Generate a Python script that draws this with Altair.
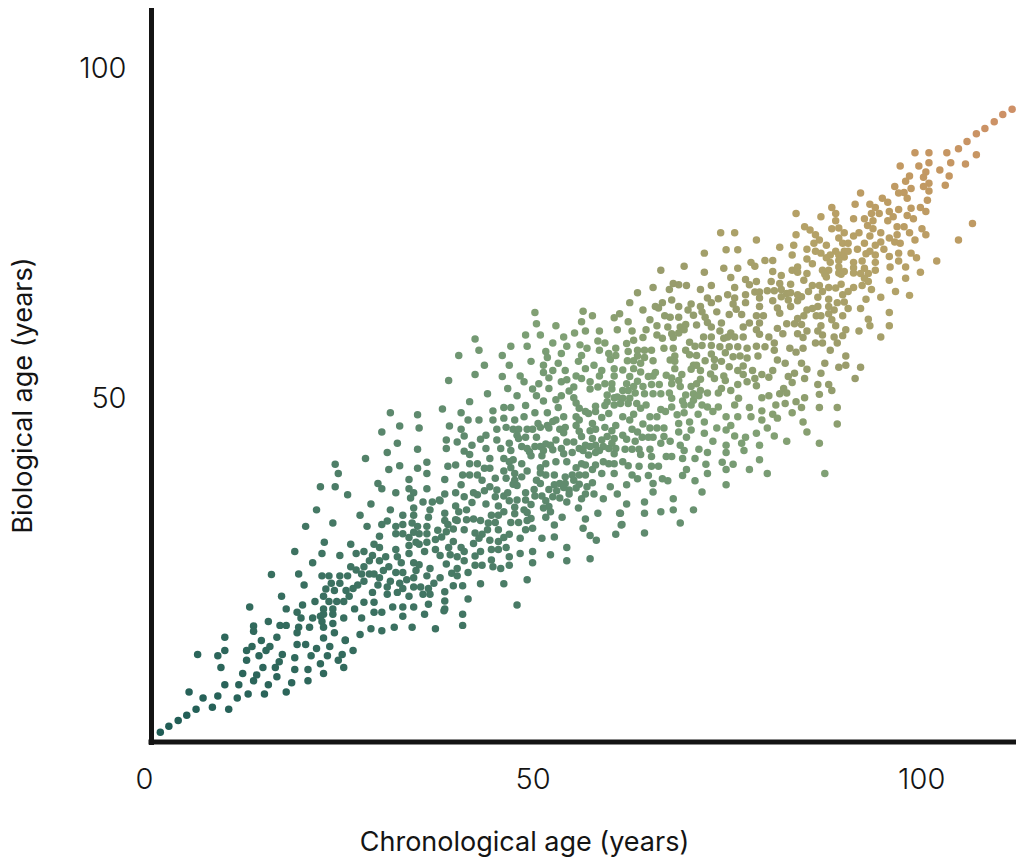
import altair as alt
import pandas as pd

band_young = [(2.1,-0.8),(3.2,0.1),(4.4,1.0),(5.5,1.8),(6.7,2.7),(8.8,3.0),(10.9,2.7),(12.0,4.4),(13.4,5.0),(15.5,5.0),(18.3,5.3),(5.8,5.3),(7.6,4.4),(9.5,4.7),(10.4,6.4),(12.2,6.4),(14.1,7.0),(14.5,7.9),(16.0,6.4),(17.1,7.6),(19.0,6.7),(21.1,7.0),(23.1,8.1),(19.4,8.7),(21.1,8.7),(22.7,9.6),(25.7,9.0),(25.0,10.1),(25.5,11.0),(26.9,11.6),(23.6,10.8),(21.5,10.8),(19.4,10.5),(17.8,11.0),(17.4,9.9),(16.9,9.0),(15.3,9.0),(12.7,8.1),(9.9,9.0),(9.5,10.8),(6.9,11.0),(10.4,11.6),(10.4,13.6),(13.2,11.6),(13.9,12.2),(13.2,10.1),(14.8,10.8),(15.7,11.6),(16.2,12.2),(19.7,12.5),(20.8,12.5),(22.2,11.9),(23.9,12.2),(25.9,13.1),(15.1,13.1),(17.1,13.6),(14.1,15.3),(14.1,14.5),(16.0,16.0),(13.6,18.2),(16.4,23.1)]

band_twenties = [(31.7,47.6),(35.2,47.3),(32.9,45.6),(35.4,45.3),(30.6,44.7),(32.6,43.0),(31.3,41.6),(35.2,42.1),(28.5,40.7),(24.6,39.8),(25.0,38.4),(31.5,39.0),(32.9,39.6),(35.2,39.2),(36.4,40.1),(36.4,38.4),(34.1,37.5),(30.1,36.9),(30.6,36.1),(22.7,36.4),(24.6,36.4),(26.2,35.2),(32.4,35.5),(34.1,36.1),(34.7,35.5),(34.3,34.7),(36.4,36.1),(35.9,34.1),(37.1,34.1),(38.0,34.4),(29.2,33.8),(22.2,32.9),(31.7,32.9),(34.7,33.2),(36.8,32.9),(33.3,32.1),(34.7,32.1),(36.6,31.8),(27.8,32.1),(31.3,31.2),(30.6,30.7),(24.3,30.9),(20.8,30.4),(28.7,30.4),(32.4,30.4),(33.3,30.7),(34.5,30.9),(35.2,30.4),(36.4,30.4),(32.4,29.3),(33.3,29.3),(34.1,28.7),(34.7,29.5),(35.4,29.3),(36.4,29.3),(37.8,29.8),(30.3,28.9),(23.2,28.0),(26.6,27.7),(29.6,27.7),(30.3,27.2),(34.1,27.5),(35.0,28.0),(35.4,27.7),(36.4,28.0),(37.5,28.4),(19.4,26.6),(22.9,26.3),(25.2,26.0),(27.3,26.3),(28.3,26.6),(32.4,26.9),(34.1,26.3),(36.1,26.6),(37.5,26.9),(29.4,26.0),(31.1,25.8),(32.6,25.8),(29.0,25.2),(30.3,25.2),(33.1,24.9),(34.7,24.9),(35.4,24.6),(21.7,24.9),(26.6,24.3),(28.3,24.3),(27.3,23.8),(31.5,24.3),(30.8,23.7),(19.9,23.2),(22.9,22.9),(23.8,22.9),(25.2,22.9),(26.2,22.9),(28.0,23.2),(29.0,23.2),(29.6,23.2),(30.3,22.6),(32.4,23.4),(33.3,23.4),(35.0,23.7),(36.8,24.0),(34.7,22.6),(33.8,22.3),(36.4,22.9),(31.7,22.1),(28.3,22.1),(27.5,21.5),(26.9,21.0),(25.2,21.8),(24.1,21.8),(20.6,21.5),(30.1,21.5),(31.3,21.2),(32.9,21.8),(34.7,21.2),(35.6,21.2),(36.6,21.0),(37.3,21.8),(23.4,20.9),(24.5,20.7),(26.0,20.7),(33.3,21.0),(29.4,20.4),(32.6,20.4),(31.3,20.1),(35.9,20.1),(36.8,20.1),(17.7,19.8),(23.1,19.8),(23.8,19.0),(24.8,19.0),(25.7,19.0),(26.4,19.8),(22.0,19.0),(34.1,19.8),(28.3,18.9),(29.6,18.9),(36.6,18.6),(20.4,18.5),(18.3,17.9),(23.1,17.9),(24.3,17.9),(27.1,17.9),(32.0,18.2),(33.3,18.2),(34.7,18.2),(19.7,17.4),(23.1,17.1),(24.3,17.1),(29.6,17.4),(30.6,17.4),(36.1,17.1),(20.2,16.5),(21.7,16.5),(22.7,16.8),(22.9,16.0),(25.7,16.5),(28.0,16.5),(33.3,16.8),(17.5,15.4),(18.3,15.4),(19.9,15.1),(21.3,15.1),(23.1,15.1),(24.3,15.7),(29.2,14.9),(30.6,14.6),(32.2,15.1),(34.5,15.1),(19.7,14.3),(24.5,14.3),(27.8,14.0),(23.1,13.5),(25.9,13.2),(38.6,17.6),(41.0,17.1),(41.0,15.4),(37.5,14.9)]

band_middle = [(50.3,62.8),(50.5,61.1),(53.0,60.8),(56.5,63.0),(57.7,62.3),(56.3,61.4),(60.5,62.0),(61.2,62.6),(49.1,59.4),(51.0,59.4),(55.4,59.7),(56.8,60.0),(58.6,60.0),(54.0,59.1),(60.9,60.2),(52.6,58.2),(54.4,57.7),(56.1,57.9),(58.4,58.5),(59.3,58.2),(42.6,58.8),(47.2,57.7),(49.3,57.7),(60.7,57.4),(43.1,57.1),(40.5,56.3),(46.1,56.3),(51.7,56.9),(53.7,56.6),(57.0,57.4),(58.6,57.1),(59.8,56.6),(56.3,56.3),(51.9,56.0),(49.8,55.4),(47.0,54.8),(43.8,54.8),(51.4,54.8),(53.3,55.1),(55.9,55.4),(60.0,55.7),(60.7,56.3),(57.9,54.8),(51.4,53.7),(52.6,54.0),(54.2,54.0),(56.8,54.3),(58.9,54.0),(60.5,54.3),(58.6,53.2),(42.6,53.4),(46.1,53.1),(48.4,53.2),(52.1,52.9),(55.6,53.2),(56.3,52.8),(60.5,53.2),(39.2,52.5),(48.9,52.3),(50.8,52.0),(53.7,52.3),(54.4,52.6),(57.4,52.3),(59.3,52.0),(60.2,52.0),(46.8,51.3),(50.0,51.2),(52.1,51.3),(55.3,51.5),(54.7,50.9),(57.4,51.2),(58.4,51.5),(60.2,51.2),(44.2,50.5),(50.5,50.2),(48.0,50.2),(53.7,50.2),(53.0,49.6),(55.3,49.9),(59.6,50.3),(60.5,49.9),(51.4,49.4),(41.9,49.3),(55.6,49.1),(59.6,49.3),(60.9,50.0),(49.1,48.7),(46.3,48.4),(47.2,48.4),(53.3,48.4),(38.4,48.2),(56.0,48.3),(58.1,48.6),(59.3,48.7),(60.5,48.8),(56.8,47.8),(44.9,47.9),(40.8,47.6),(50.3,47.6),(51.9,47.6),(57.2,47.5),(58.1,47.8),(48.9,47.0),(54.0,47.0),(58.9,46.9),(59.8,47.5),(46.3,46.8),(47.7,46.5),(43.1,46.5),(41.7,46.5),(44.9,46.5),(53.0,46.5),(55.6,47.0),(56.0,46.5),(57.7,46.0),(39.3,45.6),(50.7,46.0),(49.3,45.1),(50.0,45.1),(51.0,45.4),(51.9,45.7),(52.6,46.3),(52.1,45.3),(54.2,45.4),(55.6,45.7),(59.3,45.4),(60.7,45.7),(40.8,45.1),(46.6,45.4),(45.4,45.1),(47.5,45.1),(48.2,45.1),(53.5,45.1),(60.2,44.9),(57.4,44.9),(58.1,45.1),(56.0,44.8),(48.0,44.2),(41.2,44.1),(44.0,44.2),(43.3,43.6),(45.4,43.5),(49.1,43.9),(50.5,43.9),(54.0,44.6),(56.3,44.0),(59.6,44.0),(38.9,43.5),(40.3,43.2),(53.0,43.5),(54.4,43.2),(55.3,43.2),(57.7,43.7),(58.9,43.5),(60.5,43.7),(48.2,43.7),(47.0,43.0),(42.2,42.7),(51.7,42.9),(56.8,42.7),(58.1,42.7),(60.2,43.0),(38.9,42.2),(44.0,42.2),(45.9,42.2),(48.6,42.5),(49.3,42.2),(50.3,42.5),(51.0,42.5),(52.3,42.7),(56.0,42.2),(57.4,42.5),(59.1,42.5),(59.8,42.2),(60.7,42.2),(41.2,41.8),(47.2,41.9),(49.6,41.7),(51.4,41.9),(52.6,42.0),(53.7,42.2),(55.1,41.6),(56.5,41.9),(58.6,41.9),(41.9,41.3),(44.5,40.7),(46.3,40.7),(49.8,41.1),(51.2,41.1),(54.0,41.4),(57.2,41.2),(58.1,41.6),(60.5,41.4),(47.0,40.2),(47.5,40.5),(53.0,40.2),(54.4,40.2),(59.1,40.2),(59.8,39.9),(39.1,39.5),(40.1,39.7),(41.9,39.9),(42.9,39.9),(48.6,39.9),(51.0,39.3),(51.7,39.9),(56.3,39.9),(56.8,39.7),(58.1,39.7),(60.5,39.9),(43.8,39.2),(44.5,39.2),(47.2,39.3),(55.6,39.3),(57.7,39.0),(46.3,38.8),(49.3,38.8),(51.0,38.5),(41.0,38.2),(41.9,38.2),(42.9,38.2),(47.7,38.4),(51.7,38.2),(52.8,38.2),(54.2,37.9),(55.1,38.2),(56.0,38.2),(56.8,38.2),(58.9,38.4),(60.5,38.4),(45.2,37.7),(43.5,37.4),(46.6,37.7),(48.6,37.9),(50.5,37.4),(55.3,37.4),(38.7,37.5),(47.7,37.4),(47.5,36.8),(40.8,36.7),(51.0,36.9),(52.8,36.7),(53.5,36.9),(54.2,36.9),(56.0,36.8),(57.7,37.0),(60.0,36.4),(44.5,36.4),(48.0,36.6),(43.8,35.8),(45.4,35.9),(50.2,36.0),(52.1,36.0),(54.0,36.3),(54.7,35.9),(55.6,36.2),(57.0,36.4),(40.1,35.5),(42.4,35.5),(53.1,35.8),(42.9,35.2),(46.3,35.0),(46.8,35.5),(49.1,35.5),(38.7,35.3),(50.3,35.0),(51.2,35.0),(53.5,34.7),(54.7,35.3),(56.8,35.3),(57.9,35.3),(60.9,35.3),(41.2,34.9),(45.2,34.9),(52.6,34.9),(49.1,34.4),(56.3,34.6),(59.1,34.6),(48.0,34.4),(47.0,34.3),(51.7,34.3),(54.4,34.1),(42.2,34.0),(44.0,33.8),(45.6,33.5),(49.8,33.7),(40.1,33.5),(55.9,33.2),(52.1,33.4),(47.7,33.3),(38.1,34.3),(48.9,32.9),(51.4,33.2),(41.5,32.9),(46.3,32.6),(52.3,32.6),(58.4,32.4),(38.7,32.4),(40.5,32.6),(44.7,32.1),(45.6,32.1),(47.7,32.3),(49.3,32.5),(61.2,32.4),(40.1,31.4),(41.5,31.4),(42.4,31.5),(38.7,31.3),(43.3,31.3),(49.8,31.6),(51.7,31.8),(53.8,31.8),(56.8,31.5),(45.2,31.0),(47.2,31.0),(48.2,31.0),(49.3,31.3),(44.3,30.9),(39.1,30.7),(40.3,31.3),(52.8,30.6),(61.4,30.6),(39.8,30.0),(44.2,29.9),(49.1,29.9),(50.0,30.1),(41.2,29.9),(56.5,30.1),(38.9,29.6),(42.6,29.4),(45.6,29.9),(60.7,29.2),(38.3,28.8),(43.5,29.2),(47.0,29.2),(46.3,28.7),(52.8,28.8),(57.4,29.0),(51.2,28.6),(48.4,28.6),(43.1,28.6),(39.8,28.1),(44.5,28.3),(45.6,28.1),(58.2,28.3),(42.4,27.8),(39.2,27.2),(40.8,27.2),(46.6,27.2),(44.7,26.9),(45.6,26.9),(54.4,27.2),(43.3,26.6),(41.2,26.6),(42.6,25.9),(48.4,26.3),(50.0,26.6),(52.3,26.1),(39.4,26.1),(47.0,25.8),(38.1,26.0),(40.3,25.8),(41.2,25.2),(44.7,25.3),(50.0,24.9),(57.4,25.5),(54.4,25.2),(42.6,24.5),(43.5,24.5),(44.9,24.3),(47.0,24.5),(38.9,24.7),(40.3,24.0),(45.9,24.0),(39.6,23.3),(40.3,22.9),(41.7,23.4),(38.1,22.6),(49.3,22.3),(43.3,21.7),(46.3,21.7),(39.8,21.4),(41.0,21.4),(38.7,20.5),(41.7,19.4),(48.0,18.5),(38.7,19.1),(38.7,17.9),(64.4,29.4)]

band_sixties = [(74.2,74.9),(76.0,74.9),(78.8,73.8),(81.8,72.7),(74.9,72.3),(76.4,72.3),(72.1,71.8),(79.9,70.7),(80.9,70.7),(78.1,70.4),(69.5,69.8),(74.6,69.5),(76.4,69.5),(78.6,69.8),(80.9,69.0),(66.5,69.2),(72.1,68.9),(75.5,68.1),(77.4,67.8),(82.0,68.4),(68.1,67.2),(80.7,67.5),(78.8,67.5),(67.6,66.3),(68.8,67.0),(69.8,66.9),(73.0,66.9),(77.9,67.0),(76.0,66.6),(65.5,66.6),(71.6,66.3),(81.8,67.2),(63.5,65.8),(75.1,65.5),(77.4,65.5),(78.6,65.9),(79.2,65.9),(80.2,66.1),(81.1,66.1),(82.0,66.3),(82.7,65.7),(67.9,64.7),(72.5,65.0),(73.9,64.9),(76.0,65.0),(80.9,64.6),(77.4,64.3),(79.2,65.0),(62.5,64.3),(73.0,64.3),(82.0,65.2),(66.7,64.3),(70.4,64.1),(65.8,63.7),(68.8,63.7),(71.6,63.7),(75.8,64.1),(79.2,63.7),(81.5,63.5),(82.9,64.7),(64.2,63.2),(70.0,63.2),(76.2,63.3),(73.7,62.9),(66.2,63.5),(81.8,62.7),(70.7,62.4),(75.3,62.5),(76.9,62.5),(71.8,62.9),(67.0,62.3),(67.7,62.1),(68.8,62.1),(79.7,62.3),(78.8,62.3),(72.2,62.1),(65.1,61.7),(62.3,61.4),(72.5,61.3),(74.3,61.2),(77.9,61.2),(79.2,61.2),(82.7,61.1),(66.0,60.8),(71.1,60.9),(73.0,60.6),(67.4,60.6),(69.0,60.6),(69.7,61.0),(81.5,60.4),(77.1,60.6),(78.8,60.2),(62.8,60.0),(67.9,59.6),(74.1,60.0),(64.6,60.2),(69.5,60.2),(68.8,59.7),(82.2,59.6),(66.0,59.4),(64.2,59.0),(79.2,59.5),(75.5,59.7),(75.1,59.1),(66.7,58.9),(72.0,59.1),(73.0,59.1),(76.0,59.1),(77.1,59.1),(80.4,59.1),(63.0,58.6),(62.1,58.1),(68.1,59.0),(70.2,58.3),(74.6,58.9),(81.1,58.2),(71.8,57.8),(73.0,57.8),(79.9,57.6),(78.8,57.7),(74.1,57.6),(75.3,57.6),(76.4,57.6),(69.7,57.1),(70.9,57.7),(68.1,57.4),(66.9,57.4),(81.1,57.1),(63.5,57.1),(64.4,57.1),(65.3,57.1),(77.6,57.4),(62.3,56.9),(70.2,56.4),(74.8,56.7),(73.0,56.5),(68.3,56.2),(71.1,56.3),(75.8,56.1),(76.7,56.2),(79.0,56.2),(64.4,56.0),(65.5,55.5),(63.5,56.2),(77.6,55.9),(67.7,55.6),(72.2,55.5),(73.4,55.7),(81.5,55.6),(62.2,55.5),(63.9,55.1),(74.3,55.4),(82.5,55.1),(63.0,55.5),(70.7,54.8),(73.4,54.6),(75.3,54.6),(71.1,54.8),(77.1,54.7),(63.0,54.3),(68.3,55.4),(68.3,54.3),(63.9,53.8),(65.8,53.7),(61.6,54.1),(65.5,53.2),(67.2,53.3),(67.9,52.9),(69.2,53.4),(70.4,54.2),(71.6,54.0),(72.9,53.5),(74.6,53.2),(76.4,54.0),(77.1,53.4),(78.3,54.0),(79.5,53.4),(80.9,54.0),(82.9,53.1),(62.5,53.1),(64.9,53.1),(80.4,53.0),(63.5,52.4),(68.8,52.5),(71.6,52.7),(73.4,52.8),(74.8,52.5),(77.6,52.3),(78.6,52.8),(62.1,52.0),(65.3,51.9),(66.3,51.9),(67.9,52.0),(69.0,51.6),(70.4,51.6),(71.1,52.0),(76.4,51.9),(78.8,51.7),(63.0,51.6),(64.2,51.6),(71.6,51.0),(72.5,50.6),(74.3,51.3),(75.5,51.0),(82.3,51.3),(61.6,51.0),(62.3,51.0),(63.2,50.6),(64.4,50.5),(65.5,50.5),(66.5,50.5),(67.6,50.6),(69.7,50.3),(73.9,50.6),(70.7,50.5),(71.4,50.2),(79.5,49.9),(80.4,50.2),(81.8,50.5),(82.7,50.6),(61.6,49.8),(62.5,49.8),(67.9,49.8),(69.3,49.4),(70.7,49.5),(76.5,49.8),(61.3,49.0),(62.3,49.0),(63.4,49.0),(64.6,48.8),(67.9,48.5),(69.5,48.8),(70.4,48.8),(71.8,48.8),(72.5,48.5),(73.9,48.5),(76.0,48.8),(81.3,48.8),(82.5,49.0),(63.9,48.3),(66.5,48.1),(73.2,47.8),(77.9,48.4),(79.5,47.9),(67.1,47.8),(69.5,47.6),(68.6,47.3),(71.3,47.4),(74.9,47.0),(76.4,47.0),(78.1,47.0),(80.9,47.4),(81.5,46.8),(63.0,47.4),(61.6,47.0),(65.1,47.0),(66.0,47.0),(62.5,46.5),(64.2,45.9),(68.8,46.0),(70.2,46.2),(72.1,46.2),(75.5,45.7),(79.5,46.5),(62.8,45.1),(65.1,45.3),(66.0,45.3),(66.9,45.3),(68.8,44.7),(70.4,45.0),(73.7,45.3),(74.9,45.0),(80.2,45.3),(63.5,44.7),(66.9,44.0),(72.1,44.5),(76.0,44.1),(78.8,44.5),(81.1,44.1),(77.4,43.9),(61.6,44.2),(64.1,43.9),(64.9,43.9),(65.5,43.9),(69.8,43.9),(63.2,43.3),(62.1,43.6),(67.7,43.3),(66.5,43.0),(73.2,43.3),(82.7,43.3),(76.9,43.0),(79.2,42.7),(74.9,42.7),(69.0,42.7),(61.9,42.1),(62.8,42.1),(63.7,42.1),(65.1,42.1),(69.5,41.9),(71.4,42.1),(74.9,41.6),(72.5,41.6),(77.2,41.9),(63.9,41.3),(65.3,41.0),(67.2,41.0),(67.9,41.0),(69.3,40.7),(70.9,40.7),(79.2,40.5),(61.6,40.2),(74.4,40.1),(72.3,39.8),(75.8,39.8),(62.3,39.6),(63.7,39.5),(65.3,39.5),(66.2,39.5),(69.8,39.0),(74.9,39.0),(77.9,39.0),(72.5,38.4),(80.2,38.4),(62.8,38.2),(64.9,38.1),(63.5,37.6),(69.3,38.1),(66.7,37.6),(67.4,37.3),(65.5,36.9),(70.9,37.3),(62.1,36.7),(74.9,36.7),(65.5,35.6),(71.8,35.6),(68.1,34.6),(62.1,33.8),(64.4,34.1),(66.5,32.6),(68.1,32.9),(70.7,32.9),(64.4,32.4),(61.3,32.4),(69.0,30.9),(61.5,30.7)]

band_old = [(106.6,76.3),(112.7,94.7),(111.7,93.6),(110.5,92.8),(109.4,91.7),(108.2,90.7),(107.1,89.9),(105.9,88.7),(104.8,87.6),(103.3,87.0),(101.0,87.0),(99.2,87.0),(107.1,86.7),(105.7,85.3),(103.8,85.5),(101.0,85.5),(99.7,85.0),(97.3,85.0),(102.4,84.4),(100.6,84.1),(103.6,83.5),(98.5,83.5),(100.3,83.3),(98.0,82.7),(101.0,82.4),(103.1,82.1),(100.3,81.9),(96.6,81.9),(98.7,81.6),(101.0,81.2),(97.8,81.0),(97.1,80.9),(92.2,80.9),(95.0,80.1),(95.7,79.5),(98.2,80.1),(100.8,79.8),(91.5,79.2),(93.4,79.2),(94.1,78.7),(88.5,78.7),(98.7,78.6),(99.9,78.7),(97.1,78.4),(100.6,78.1),(95.9,78.1),(89.0,77.8),(83.9,77.8),(94.6,77.8),(93.6,77.8),(98.2,77.5),(96.4,77.3),(87.1,77.3),(91.3,77.0),(92.7,77.0),(99.0,77.0),(89.0,76.7),(95.7,76.7),(93.8,76.7),(93.1,76.0),(85.0,75.8),(88.5,75.5),(89.4,75.6),(96.9,75.8),(97.8,75.8),(100.1,75.5),(93.8,75.5),(85.7,75.3),(90.1,74.9),(92.0,74.9),(94.8,74.9),(98.5,74.9),(96.9,74.6),(100.6,74.6),(83.9,74.6),(86.4,74.6),(91.3,74.4),(93.4,74.4),(89.4,74.1),(95.9,74.1),(86.9,73.8),(99.2,73.8),(104.8,73.8),(94.8,73.5),(96.6,73.5),(89.9,73.3),(90.6,73.3),(86.2,73.3),(92.7,73.3),(97.3,73.3),(94.1,73.0),(83.6,73.0),(87.8,73.0),(95.2,72.4),(85.3,72.4),(91.8,72.4),(86.4,72.1),(89.0,72.1),(90.1,72.1),(90.6,72.1),(93.4,72.1),(87.1,71.8),(98.7,71.8),(97.1,71.8),(88.3,71.5),(92.9,71.7),(83.4,71.5),(89.4,71.5),(94.1,71.5),(95.9,71.3),(99.4,71.1),(85.3,70.9),(87.8,71.1),(90.1,71.2),(91.3,70.4),(92.4,70.6),(97.1,70.6),(102.0,70.6),(86.0,70.2),(88.3,70.4),(89.4,70.7),(94.1,70.4),(84.1,69.7),(96.0,69.7),(98.0,69.7),(89.4,69.7),(91.3,69.6),(92.7,69.5),(83.4,69.2),(87.3,69.2),(88.1,69.2),(94.1,69.2),(99.9,68.9),(84.1,68.9),(85.3,68.7),(89.4,68.8),(90.1,69.0),(91.3,68.8),(92.2,68.7),(93.2,68.7),(87.6,68.6),(89.7,68.6),(84.9,67.7),(95.9,67.7),(98.0,68.0),(87.8,68.2),(92.7,68.0),(93.2,67.5),(89.7,67.1),(86.0,66.9),(83.2,67.1),(92.4,66.9),(86.9,66.9),(88.1,66.6),(89.0,66.5),(91.3,66.6),(85.5,66.0),(90.6,66.0),(93.6,66.3),(87.3,66.0),(89.9,65.5),(83.2,65.8),(84.1,65.5),(96.7,66.0),(98.5,65.4),(94.8,65.1),(84.6,65.2),(86.7,65.1),(92.9,64.8),(88.1,64.8),(89.2,64.3),(90.1,64.4),(84.1,64.6),(86.7,63.7),(86.0,63.4),(90.6,63.4),(88.1,63.7),(92.2,63.4),(83.2,63.7),(85.3,63.2),(88.8,63.2),(95.9,62.8),(88.1,62.6),(89.9,62.3),(84.9,62.3),(86.5,62.3),(87.1,62.3),(84.1,61.9),(88.5,61.7),(93.2,61.8),(83.7,61.1),(84.6,61.0),(89.0,60.8),(93.4,60.8),(95.9,60.8),(87.1,60.8),(90.3,60.2),(85.3,60.0),(86.7,60.0),(92.0,60.0),(84.1,59.6),(87.3,59.4),(89.9,59.3),(88.8,59.1),(94.8,59.1),(84.8,59.0),(89.2,58.2),(86.4,58.2),(87.3,58.2),(84.8,57.4),(88.3,57.1),(83.1,57.4),(83.9,56.8),(90.3,56.2),(84.6,55.1),(87.6,55.1),(85.3,54.2),(89.4,54.5),(90.3,54.8),(92.2,54.5),(83.7,53.6),(87.1,53.6),(85.0,52.8),(91.5,52.8),(83.4,52.2),(86.7,51.9),(88.1,51.9),(88.5,51.0),(86.9,50.4),(85.0,49.9),(83.9,49.3),(84.6,48.4),(86.9,48.4),(89.2,48.4),(83.4,47.6),(84.8,46.2),(89.2,45.9),(85.3,44.7),(86.9,43.0),(87.6,38.4)]

tick_values = [0, 50, 100]
tone_stops = [0, 57, 111, 148, 177, 202, 238, 265]
tone_colors = ["#1f5c55", "#3a7060", "#5f8a6e", "#7fa075", "#999c6c", "#b2a268", "#c49762", "#cf8f68"]
axis_floor = [-2.27]
axis_span_start = [0.9]
axis_span_end = [112.2]
INK = "#141414"
FONT = "Inter"

pairs = band_young + band_twenties + band_middle + band_sixties + band_old
df = pd.DataFrame(pairs, columns=["chrono", "bio"])
df["tone"] = df["chrono"] + 1.6 * df["bio"]

x_scale = alt.Scale(domain=[0, 112.2], nice=False, zero=False)
y_scale = alt.Scale(domain=[-2.27, 108.94], nice=False, zero=False)

dots = (
    alt.Chart(df)
    .mark_circle(size=56, opacity=1)
    .encode(
        x=alt.X(
            "chrono:Q",
            scale=x_scale,
            axis=alt.Axis(
                values=tick_values, grid=False, ticks=False, domain=False, format="d",
                title="Chronological age (years)",
                labelFont=FONT, labelFontSize=29, labelFontWeight=300, labelColor=INK, labelPadding=23,
                labelFlush=False, labelOverlap=False,
                titleFont=FONT, titleFontSize=27, titleFontWeight="normal", titleColor=INK,
                titleX=380, titleY=87, titleAlign="center",
            ),
        ),
        y=alt.Y(
            "bio:Q",
            scale=y_scale,
            axis=alt.Axis(
                values=[50, 100], grid=False, ticks=False, format="d", offset=-7,
                title="Biological age (years)",
                domainColor=INK, domainWidth=5, domainCap="square",
                labelFont=FONT, labelFontSize=29, labelFontWeight=300, labelColor=INK, labelPadding=25,
                labelOffset=1, labelFlush=False, labelOverlap=False,
                titleFont=FONT, titleFontSize=27, titleFontWeight="normal", titleColor=INK,
                titleX=-114, titleY=387, titleAlign="center",
            ),
        ),
        color=alt.Color(
            "tone:Q",
            scale=alt.Scale(domain=tone_stops, range=tone_colors),
            legend=None,
        ),
    )
)

floor = (
    alt.Chart(pd.DataFrame({"a": axis_span_start, "b": axis_span_end, "y": axis_floor}))
    .mark_rule(strokeWidth=5, color=INK, strokeCap="square")
    .encode(
        x=alt.X("a:Q", scale=x_scale),
        x2="b:Q",
        y=alt.Y("y:Q", scale=y_scale),
    )
)

chart = (
    alt.layer(floor, dots)
    .properties(
        width=872,
        height=734,
        autosize=alt.AutoSizeParams(type="none"),
        padding={"left": 136, "top": 0, "right": 0, "bottom": 118},
    )
    .configure_view(stroke=None)
)

chart.save("out.html", embed_options={"renderer": "svg", "actions": False})
